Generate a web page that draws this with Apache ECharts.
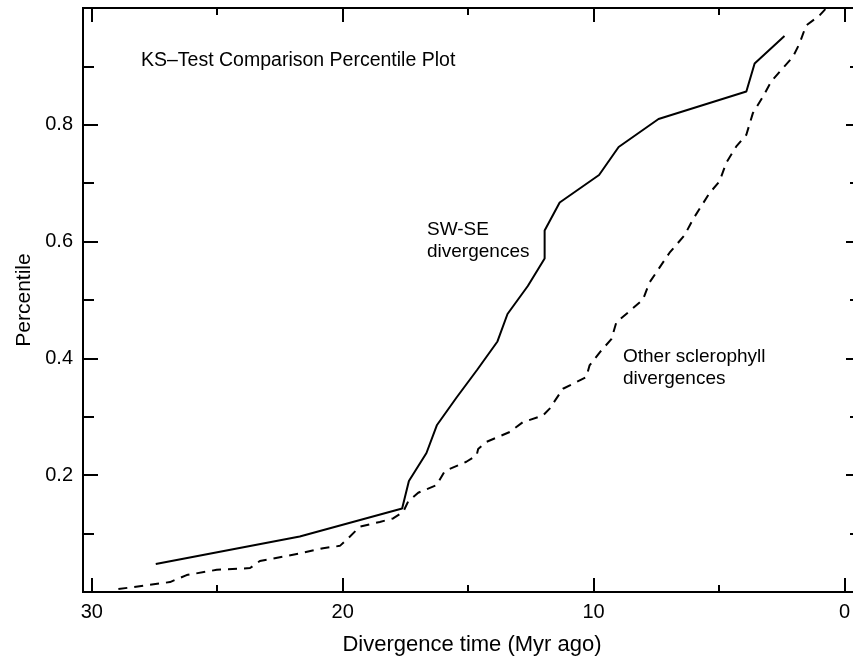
<!DOCTYPE html>
<html>
<head>
<meta charset="utf-8">
<script src="https://cdn.jsdelivr.net/npm/echarts@6.0.0/dist/echarts.min.js"></script>
<style>
  html, body { margin: 0; padding: 0; background: #fff; }
  #chart { width: 853px; height: 659px; }
</style>
</head>
<body>
<div id="chart"></div>
<script>
// SW-SE divergences (solid line)
var swseTime = [27.45, 21.71, 17.63, 17.36, 16.66, 16.24, 15.46, 14.63, 13.83, 13.43,
                12.62, 11.95, 11.95, 11.35, 9.78, 9.00, 7.41, 3.91, 3.58, 2.39];
var swsePct = [0.048, 0.095, 0.143, 0.190, 0.238, 0.286, 0.333, 0.381, 0.429, 0.476,
               0.524, 0.571, 0.619, 0.667, 0.714, 0.762, 0.810, 0.857, 0.905, 0.952];

// Other sclerophyll divergences (dashed line)
var otherTime = [28.94, 26.88, 26.22, 25.02, 23.69, 23.30, 21.70, 20.78, 20.11, 19.78,
                 19.31, 18.52, 17.99, 17.59, 17.39, 16.99, 16.26, 15.93, 15.07, 14.66,
                 14.60, 14.27, 13.34, 12.81, 12.02, 11.75, 11.22, 10.29, 10.16, 9.76,
                 9.29, 9.09, 8.56, 8.03, 7.77, 6.97, 6.37, 6.04, 5.38, 4.98,
                 4.71, 4.31, 3.91, 3.65, 3.25, 2.92, 2.52, 2.06, 1.79, 1.53,
                 1.00, 0.76];
var otherPct = [0.005, 0.017, 0.029, 0.038, 0.041, 0.053, 0.066, 0.075, 0.079, 0.092,
                0.112, 0.120, 0.126, 0.137, 0.155, 0.170, 0.183, 0.207, 0.223, 0.234,
                0.245, 0.257, 0.274, 0.291, 0.302, 0.314, 0.348, 0.368, 0.388, 0.410,
                0.433, 0.462, 0.481, 0.501, 0.530, 0.581, 0.611, 0.638, 0.683, 0.703,
                0.735, 0.763, 0.783, 0.820, 0.848, 0.874, 0.894, 0.916, 0.939, 0.970,
                0.987, 0.998];

var xMajorTicks = [0, 10, 20, 30];
var xMinorTicks = [5, 15, 25];
var yMajorTicks = [0.2, 0.4, 0.6, 0.8];
var yMinorTicks = [0.1, 0.3, 0.5, 0.7, 0.9];

var FONT = 'Liberation Sans, Arial, Helvetica, sans-serif';

function pairs(xs, ys) {
    var out = [];
    for (var i = 0; i < xs.length; i++) out.push([xs[i], ys[i]]);
    return out;
}

function xAxisDef(pos, ticks, len, withLabels) {
    var ax = {
        type: 'value',
        position: pos,
        inverse: true,
        min: -0.66,
        max: 30.35,
        axisLine: { show: true, onZero: false, lineStyle: { color: '#000', width: 2 } },
        axisTick: { show: true, inside: true, length: len, customValues: ticks,
                    lineStyle: { color: '#000', width: 2 } },
        axisLabel: { show: false },
        splitLine: { show: false }
    };
    if (withLabels) {
        ax.axisLabel = { show: true, customValues: ticks, margin: 10,
                         color: '#000', fontSize: 20, fontFamily: FONT };
        ax.name = 'Divergence time (Myr ago)';
        ax.nameLocation = 'middle';
        ax.nameGap = 42;
        ax.nameTextStyle = { color: '#000', fontSize: 22, fontFamily: FONT };
    }
    return ax;
}

function yAxisDef(pos, ticks, len, withLabels) {
    var ax = {
        type: 'value',
        position: pos,
        min: 0,
        max: 1,
        axisLine: { show: true, onZero: false, lineStyle: { color: '#000', width: 2 } },
        axisTick: { show: true, inside: true, length: len, customValues: ticks,
                    lineStyle: { color: '#000', width: 2 } },
        axisLabel: { show: false },
        splitLine: { show: false }
    };
    if (withLabels) {
        ax.axisLabel = { show: true, customValues: ticks, margin: 10,
                         color: '#000', fontSize: 20, fontFamily: FONT };
        ax.name = 'Percentile';
        ax.nameLocation = 'middle';
        ax.nameGap = 48;
        ax.nameTextStyle = { color: '#000', fontSize: 21, fontFamily: FONT };
    }
    return ax;
}

var chart = echarts.init(document.getElementById('chart'));
chart.setOption({
    backgroundColor: '#fff',
    animation: false,
    title: {
        text: 'KS–Test Comparison Percentile Plot',
        left: 141,
        top: 51,
        padding: 0,
        textStyle: { color: '#000', fontSize: 19.5, fontWeight: 'normal', fontFamily: FONT }
    },
    grid: { left: 83, right: -8, top: 8, bottom: 67, outerBoundsMode: 'none' },
    xAxis: [
        xAxisDef('bottom', xMajorTicks, 14, true),
        xAxisDef('bottom', xMinorTicks, 7, false),
        xAxisDef('top', xMajorTicks, 14, false),
        xAxisDef('top', xMinorTicks, 7, false)
    ],
    yAxis: [
        yAxisDef('left', yMajorTicks, 15, true),
        yAxisDef('left', yMinorTicks, 11, false),
        yAxisDef('right', yMajorTicks, 15, false),
        yAxisDef('right', yMinorTicks, 11, false)
    ],
    graphic: [
        {
            type: 'text', left: 427, top: 219,
            style: { text: 'SW-SE\ndivergences', fill: '#000', fontSize: 19,
                     lineHeight: 22, fontFamily: FONT }
        },
        {
            type: 'text', left: 623, top: 346,
            style: { text: 'Other sclerophyll\ndivergences', fill: '#000', fontSize: 19,
                     lineHeight: 22, fontFamily: FONT }
        }
    ],
    series: [
        {
            name: 'SW-SE divergences',
            type: 'line',
            xAxisIndex: 0,
            yAxisIndex: 0,
            symbol: 'none',
            lineStyle: { color: '#000', width: 2 },
            data: pairs(swseTime, swsePct)
        },
        {
            name: 'Other sclerophyll divergences',
            type: 'line',
            xAxisIndex: 0,
            yAxisIndex: 0,
            symbol: 'none',
            lineStyle: { color: '#000', width: 2, type: [9, 7] },
            data: pairs(otherTime, otherPct)
        }
    ]
});
</script>
</body>
</html>
